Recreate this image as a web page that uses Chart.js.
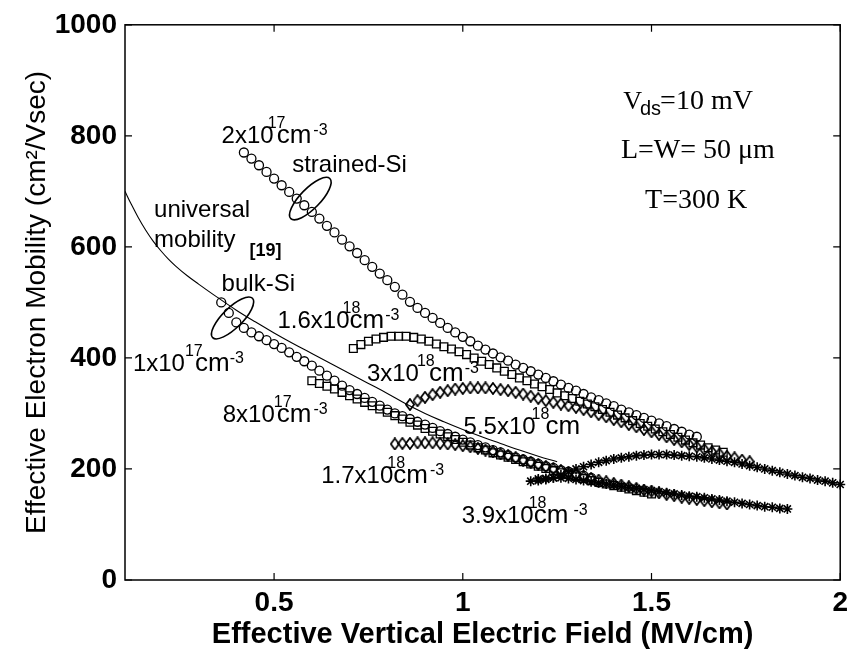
<!DOCTYPE html>
<html>
<head>
<meta charset="utf-8">
<script src="https://cdn.jsdelivr.net/npm/chart.js@4.4.1/dist/chart.umd.min.js"></script>
<style>
  html, body { margin: 0; padding: 0; background: #fff; }
  canvas { display: block; }
</style>
</head>
<body>
<canvas id="myChart" width="854" height="652"></canvas>
<script>
var xTicks = [0.5, 1, 1.5, 2];
var yTicks = [0, 200, 400, 600, 800, 1000];

// universal mobility curve [19]
var univX = [0.105,0.12,0.14,0.16,0.18,0.20,0.22,0.24,0.27,0.30,0.35,0.40,0.45,0.50,0.55,
             0.60,0.65,0.70,0.75,0.80,0.85,0.90,0.95,1.00,1.05,1.10,1.15,1.20,1.25];
var univY = [700,679,653,630,610,593,578,565,548,533,509,486,465,445,426,
             408,390,372,354,336,317,300,285,271,258,246,234,223,213];

// strained-Si, 2x10^17 (circles)
var sCircX = [0.42,0.44,0.46,0.48,0.50,0.52,0.54,0.56,0.58,0.60,
              0.62,0.64,0.66,0.68,0.70,0.72,0.74,0.76,0.78,0.80,
              0.82,0.84,0.86,0.88,0.90,0.92,0.94,0.96,0.98,1.00,
              1.02,1.04,1.06,1.08,1.10,1.12,1.14,1.16,1.18,1.20,
              1.22,1.24,1.26,1.28,1.30,1.32,1.34,1.36,1.38,1.40,
              1.42,1.44,1.46,1.48,1.50,1.52,1.54,1.56,1.58,1.60,
              1.62];
var sCircY = [770,759,747,735,723,711,699,687,675,663,
              651,638,626,613,601,589,576,564,552,540,
              528,514,501,490,481,472,463,454,446,438,
              430,422,415,408,401,395,388,382,376,370,
              364,358,352,346,341,335,329,324,318,313,
              307,302,297,292,287,282,277,272,267,262,
              258];

// strained-Si, 1.6x10^18 (squares)
var sSqX = [0.71,0.73,0.75,0.77,0.79,0.81,0.83,0.85,0.87,0.89,
            0.91,0.93,0.95,0.97,0.99,1.01,1.03,1.05,1.07,1.09,
            1.11,1.13,1.15,1.17,1.19,1.21,1.23,1.25,1.27,1.29,
            1.31,1.33,1.35,1.37,1.39,1.41,1.43,1.45,1.47,1.49,
            1.51,1.53,1.55,1.57,1.59,1.61,1.63,1.65,1.67,1.69];
var sSqY = [417,424,430,434,437,439,439,439,437,434,
            430,425,420,416,411,406,400,394,388,382,
            376,370,364,359,353,348,343,337,332,327,
            322,317,312,307,302,297,292,287,282,277,
            272,267,262,257,252,247,243,238,234,230];

// strained-Si, 3x10^18 (diamonds)
var sDiaX = [0.86,0.88,0.90,0.92,0.94,0.96,0.98,1.00,1.02,1.04,
             1.06,1.08,1.10,1.12,1.14,1.16,1.18,1.20,1.22,1.24,
             1.26,1.28,1.30,1.32,1.34,1.36,1.38,1.40,1.42,1.44,
             1.46,1.48,1.50,1.52,1.54,1.56,1.58,1.60,1.62,1.64,
             1.66,1.68,1.70,1.72,1.74,1.76];
var sDiaY = [316,323,329,334,338,341,344,345,346,346,
             346,345,343,341,338,335,331,327,323,320,
             317,314,311,307,303,298,294,289,285,280,
             276,271,267,262,258,253,249,244,240,235,
             231,227,223,220,216,213];

// strained-Si, 5.5x10^18 (stars)
var sStarX = [1.18,1.20,1.22,1.24,1.26,1.28,1.30,1.32,1.34,1.36,
              1.38,1.40,1.42,1.44,1.46,1.48,1.50,1.52,1.54,1.56,
              1.58,1.60,1.62,1.64,1.66,1.68,1.70,1.72,1.74,1.76,
              1.78,1.80,1.82,1.84,1.86,1.88,1.90,1.92,1.94,1.96,
              1.98,2.00];
var sStarY = [178,179,181,184,189,195,200,204,208,212,
              215,218,220,222,224,225,226,226,226,225,
              224,223,222,220,218,216,214,212,209,206,
              203,200,197,194,191,188,185,183,180,178,
              175,172];

// bulk-Si, 1x10^17 (circles)
var bCircX = [0.36,0.38,0.40,0.42,0.44,0.46,0.48,0.50,0.52,0.54,
              0.56,0.58,0.60,0.62,0.64,0.66,0.68,0.70,0.72,0.74,
              0.76,0.78,0.80,0.82,0.84,0.86,0.88,0.90,0.92,0.94,
              0.96,0.98,1.00,1.02,1.04,1.06,1.08,1.10,1.12,1.14,
              1.16,1.18,1.20,1.22,1.24,1.26,1.28,1.30,1.32,1.34,
              1.36];
var bCircY = [500,481,464,454,446,439,432,425,418,410,
              402,394,386,377,368,359,350,342,335,328,
              321,314,307,300,295,290,285,280,274,268,
              263,258,253,248,243,239,234,230,225,221,
              217,213,209,205,202,198,195,191,188,184,
              176];

// bulk-Si, 8x10^17 (squares)
var bSqX = [0.60,0.62,0.64,0.66,0.68,0.70,0.72,0.74,0.76,0.78,
            0.80,0.82,0.84,0.86,0.88,0.90,0.92,0.94,0.96,0.98,
            1.00,1.02,1.04,1.06,1.08,1.10,1.12,1.14,1.16,1.18,
            1.20,1.22,1.24,1.26,1.28,1.30,1.32,1.34,1.36,1.38,
            1.40,1.42,1.44,1.46,1.48,1.50];
var bSqY = [359,354,349,344,338,332,326,320,314,308,
            302,296,290,284,279,273,268,263,258,253,
            248,243,238,234,229,225,221,217,213,209,
            205,201,197,193,190,186,183,179,176,173,
            170,167,164,161,158,155];

// bulk-Si, 1.7x10^18 (diamonds)
var bDiaX = [0.82,0.84,0.86,0.88,0.90,0.92,0.94,0.96,0.98,1.00,
             1.02,1.04,1.06,1.08,1.10,1.12,1.14,1.16,1.18,1.20,
             1.22,1.24,1.26,1.28,1.30,1.32,1.34,1.36,1.38,1.40,
             1.42,1.44,1.46,1.48,1.50,1.52,1.54,1.56,1.58,1.60,
             1.62,1.64,1.66,1.68,1.70];
var bDiaY = [245,246,246,247,247,247,246,245,244,242,
             240,237,234,231,227,224,220,216,212,208,
             204,200,197,193,190,186,183,180,177,174,
             171,168,165,162,160,157,154,152,149,147,
             145,143,141,139,137];

// bulk-Si, 3.9x10^18 (stars)
var bStarX = [1.20,1.22,1.24,1.26,1.28,1.30,1.32,1.34,1.36,1.38,
              1.40,1.42,1.44,1.46,1.48,1.50,1.52,1.54,1.56,1.58,
              1.60,1.62,1.64,1.66,1.68,1.70,1.72,1.74,1.76,1.78,
              1.80,1.82,1.84,1.86];
var bStarY = [182,183,184,184,183,181,179,177,175,173,
              171,169,167,165,163,161,159,157,155,153,
              151,150,148,146,144,142,140,138,136,134,
              132,131,129,128];

function pts(xs, ys) {
  return xs.map(function (x, i) { return {x: x, y: ys[i]}; });
}

// narrow diamond marker like the matlab one
function makeDiamond() {
  var c = document.createElement('canvas');
  c.width = 10; c.height = 13;
  var g = c.getContext('2d');
  g.strokeStyle = '#000';
  g.lineWidth = 1.7;
  g.beginPath();
  g.moveTo(5, 0.9); g.lineTo(9.1, 6.5); g.lineTo(5, 12.1); g.lineTo(0.9, 6.5);
  g.closePath();
  g.stroke();
  return c;
}
var diamond = makeDiamond();

function markers(data, style, r, bw) {
  return {
    data: data,
    pointStyle: style,
    pointRadius: r,
    pointBorderWidth: bw,
    pointBorderColor: '#000',
    pointBackgroundColor: 'rgba(0,0,0,0)',
    showLine: false,
    clip: false
  };
}

var SANS = '"Liberation Sans", Arial, Helvetica, sans-serif';
var SERIF = '"Liberation Serif", "Times New Roman", serif';
var N = '24px ' + SANS;
var CM = '26px ' + SANS;
var SUP = '16px ' + SANS;
var TM = '28px ' + SERIF;

// text labels: [text, font, raise, dx, advance]
var notes = [
  {x: 0.361, y: 787, parts: [['2x10', N, 0, 0, 1], ['17', SUP, 15, -6, 0], ['cm', CM, 0, 3, 1], ['-3', SUP, 8, 2, 1]]},
  {x: 0.548, y: 735, parts: [['strained-Si', N, 0, 0, 1]]},
  {x: 0.182, y: 654, parts: [['universal', N, 0, 0, 1]]},
  {x: 0.182, y: 599, parts: [['mobility', N, 0, 0, 1]]},
  {x: 0.435, y: 583, parts: [['[19]', 'bold 18px ' + SANS, 0, 0, 1]]},
  {x: 0.361, y: 520, parts: [['bulk-Si', N, 0, 0, 1]]},
  {x: 0.509, y: 453, parts: [['1.6x10', N, 0, 0, 1], ['18', SUP, 15, -7, 0], ['cm', CM, 0, 0, 1], ['-3', SUP, 8, 1, 1]]},
  {x: 0.126, y: 377, parts: [['1x10', N, 0, 0, 1], ['17', SUP, 15, 0, 0], ['cm', CM, 0, 10, 1], ['-3', SUP, 8, 0, 1]]},
  {x: 0.746, y: 359, parts: [['3x10', N, 0, 0, 1], ['18', SUP, 15, -2, 0], ['cm', CM, 0, 10, 1], ['-3', SUP, 8, 1, 1]]},
  {x: 0.364, y: 284, parts: [['8x10', N, 0, 0, 1], ['17', SUP, 15, -1, 0], ['cm', CM, 0, 2, 1], ['-3', SUP, 8, 2, 1]]},
  {x: 1.002, y: 263, parts: [['5.5x10', N, 0, 0, 1], ['18', SUP, 15, -4, 0], ['cm', CM, 0, 10, 1]]},
  {x: 0.625, y: 174, parts: [['1.7x10', N, 0, 0, 1], ['18', SUP, 15, -6, 0], ['cm', CM, 0, 0, 1], ['-3', SUP, 8, 2, 1]]},
  {x: 0.997, y: 103, parts: [['3.9x10', N, 0, 0, 1], ['18', SUP, 15, -5, 0], ['cm', CM, 0, 0, 1], ['-3', SUP, 8, 5, 1]]},
  {x: 1.425, y: 849, parts: [['V', '26px ' + SERIF, 0, 0, 1], ['ds', '20px ' + SANS, -6, -2, 1], ['=10 mV', TM, 0, -1, 1]]},
  {x: 1.419, y: 760, parts: [['L=W= 50 \u03bcm', TM, 0, 0, 1]]},
  {x: 1.483, y: 670, parts: [['T=300 K', TM, 0, 0, 1]]}
];

// ellipses around the strained and bulk groups (centre in data units)
var rings = [
  {x: 0.596, y: 687, a: 28, b: 10, rot: -0.80},
  {x: 0.390, y: 472, a: 28, b: 10, rot: -0.78}
];

var frameAndNotes = {
  id: 'frameAndNotes',
  afterDraw: function (chart) {
    var ctx = chart.ctx, a = chart.chartArea;
    var xs = chart.scales.x, ys = chart.scales.y;
    ctx.save();
    ctx.strokeStyle = '#000';
    ctx.lineWidth = 1.5;
    ctx.strokeRect(a.left, a.top, a.right - a.left, a.bottom - a.top);

    ctx.lineWidth = 1.2;
    ctx.beginPath();
    xTicks.forEach(function (v) {
      var p = xs.getPixelForValue(v);
      ctx.moveTo(p, a.bottom); ctx.lineTo(p, a.bottom - 7);
      ctx.moveTo(p, a.top); ctx.lineTo(p, a.top + 7);
    });
    yTicks.forEach(function (v) {
      var p = ys.getPixelForValue(v);
      ctx.moveTo(a.left, p); ctx.lineTo(a.left + 7, p);
      ctx.moveTo(a.right, p); ctx.lineTo(a.right - 7, p);
    });
    ctx.stroke();

    ctx.lineWidth = 1.6;
    rings.forEach(function (r) {
      ctx.beginPath();
      ctx.ellipse(xs.getPixelForValue(r.x), ys.getPixelForValue(r.y), r.a, r.b, r.rot, 0, Math.PI * 2);
      ctx.stroke();
    });

    ctx.fillStyle = '#000';
    ctx.textBaseline = 'alphabetic';
    ctx.textAlign = 'left';
    notes.forEach(function (n) {
      var cx = xs.getPixelForValue(n.x);
      var by = ys.getPixelForValue(n.y);
      n.parts.forEach(function (p) {
        ctx.font = p[1];
        ctx.fillText(p[0], cx + p[3], by - p[2]);
        if (p[4]) cx += p[3] + ctx.measureText(p[0]).width;
      });
    });
    ctx.restore();
  }
};

var ctx = document.getElementById('myChart');

var chartData = {
  datasets: [
    {
      data: pts(univX, univY),
      showLine: true,
      borderColor: '#000',
      borderWidth: 1.1,
      pointRadius: 0,
      tension: 0.4
    },
    markers(pts(sCircX, sCircY), 'circle', 4.5, 1.3),
    markers(pts(sSqX, sSqY), 'rect', 5.5, 1.3),
    markers(pts(sDiaX, sDiaY), diamond, 5, 1),
    markers(pts(sStarX, sStarY), 'star', 5, 1.6),
    markers(pts(bCircX, bCircY), 'circle', 4.5, 1.3),
    markers(pts(bSqX, bSqY), 'rect', 5.5, 1.3),
    markers(pts(bDiaX, bDiaY), diamond, 5, 1),
    markers(pts(bStarX, bStarY), 'star', 5, 1.6)
  ]
};

var chartOptions = {
  responsive: false,
  animation: false,
  layout: { padding: { top: 17, right: 11, left: 0, bottom: 0 } },
  plugins: {
    legend: { display: false },
    tooltip: { enabled: false }
  },
  scales: {
    x: {
      type: 'linear',
      min: 0.105,
      max: 2,
      grid: { display: false, drawTicks: false },
      border: { display: false },
      afterBuildTicks: function (scale) {
        scale.ticks = xTicks.map(function (v) { return {value: v}; });
      },
      afterFit: function (scale) { scale.height = 72; },
      ticks: {
        autoSkip: false,
        maxRotation: 0,
        padding: 6,
        color: '#000',
        font: { family: SANS, size: 28, weight: 'bold' },
        callback: function (v) { return String(v); }
      },
      title: {
        display: true,
        text: 'Effective Vertical Electric Field (MV/cm)',
        color: '#000',
        font: { family: SANS, size: 29, weight: 'bold' },
        padding: { top: 0, bottom: 0 }
      }
    },
    y: {
      type: 'linear',
      min: 0,
      max: 1000,
      grid: { display: false, drawTicks: false },
      border: { display: false },
      afterBuildTicks: function (scale) {
        scale.ticks = yTicks.map(function (v) { return {value: v}; });
      },
      afterFit: function (scale) { scale.width = 125; },
      ticks: {
        padding: 8,
        color: '#000',
        font: { family: SANS, size: 28, weight: 'bold' },
        callback: function (v) { return String(v); }
      },
      title: {
        display: true,
        text: 'Effective Electron Mobility (cm\u00b2/Vsec)',
        color: '#000',
        font: { family: SANS, size: 28 },
        padding: { top: 20, bottom: 0 }
      }
    }
  }
};

var mobilityChart = new Chart(ctx, {
  type: 'scatter',
  data: chartData,
  options: chartOptions,
  plugins: [frameAndNotes]
});
</script>
</body>
</html>
